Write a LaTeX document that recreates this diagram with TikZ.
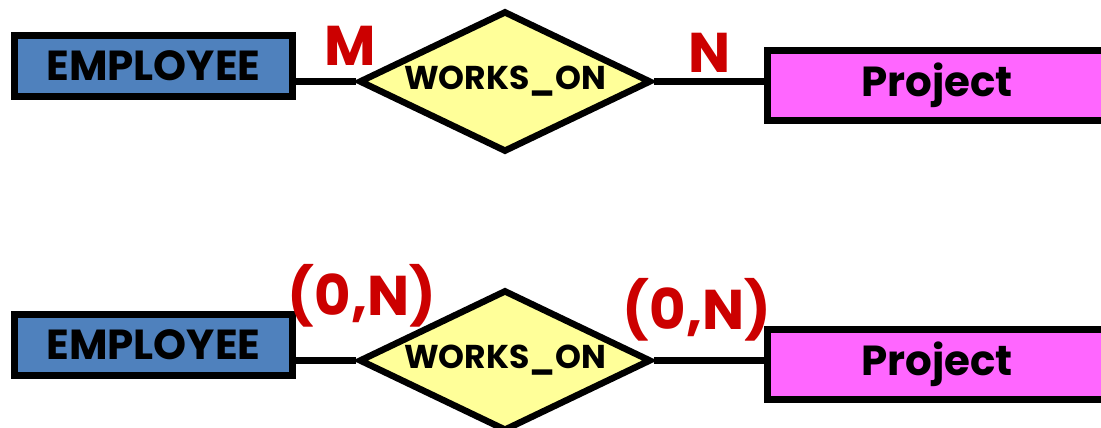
\documentclass[tikz,border=0pt]{standalone}
\usepackage{fontspec}
\setmainfont{Poppins}
\usetikzlibrary{positioning,calc,shapes.geometric}
\definecolor{entblue}{RGB}{79,129,189}
\definecolor{projpink}{RGB}{255,102,255}
\definecolor{relyellow}{RGB}{255,255,153}
\definecolor{cardred}{RGB}{204,0,0}
\newcommand{\card}[1]{\fontsize{56}{60}\selectfont\bfseries #1}

\begin{document}
\begin{tikzpicture}[
	entity/.style={draw, rectangle, line width=7pt, minimum height=61pt, inner sep=0pt,
		font=\fontsize{42}{46}\selectfont\bfseries},
	relation/.style={draw, diamond, line width=6.5pt, aspect=2.07, minimum width=292pt,
		minimum height=141pt, inner sep=0pt, fill=relyellow,
		font=\fontsize{33}{36}\selectfont\bfseries},
	link/.style={line width=6.5pt},
	cardlabel/.style={text=cardred, inner sep=0pt}
	]
	\useasboundingbox (0pt,0pt) rectangle (1101pt,-428pt);
	
	% M:N
	\node[entity, fill=entblue, minimum width=278pt] (emp1) at (153.5pt,-66pt) {EMPLOYEE};
	\node[relation] (rel1) at (505pt,-81.5pt) {WORKS\_ON};
	\node[entity, fill=projpink, minimum width=340pt, minimum height=70pt] (proj1) at (937pt,-85.5pt) {Project};
	
	\draw[link] (emp1.east |- rel1.west) -- (rel1.west);
	\draw[link] (rel1.east) -- (rel1.east -| proj1.west);
	
	\node[cardlabel] (m1) at (350pt,-46pt) {\card{M}};
	\node[cardlabel] (n1) at (710pt,-53pt) {\card{N}};
	
	% (min,max)
	\node[entity, fill=entblue, minimum width=278pt] (emp2) at ($(emp1)+(0,-279pt)$) {EMPLOYEE};
	\node[relation] (rel2) at ($(rel1)+(0,-279pt)$) {WORKS\_ON};
	\node[entity, fill=projpink, minimum width=340pt, minimum height=70pt] (proj2) at ($(proj1)+(0,-279pt)$) {Project};
	
	\draw[link] (emp2.east |- rel2.west) -- (rel2.west);
	\draw[link] (rel2.east) -- (rel2.east -| proj2.west);
	
	\node[cardlabel] (c1) at (362pt,-296pt) {\card{(0,N)}};
	\node[cardlabel] (c2) at (697pt,-310pt) {\card{(0,N)}};
\end{tikzpicture}
\end{document}
